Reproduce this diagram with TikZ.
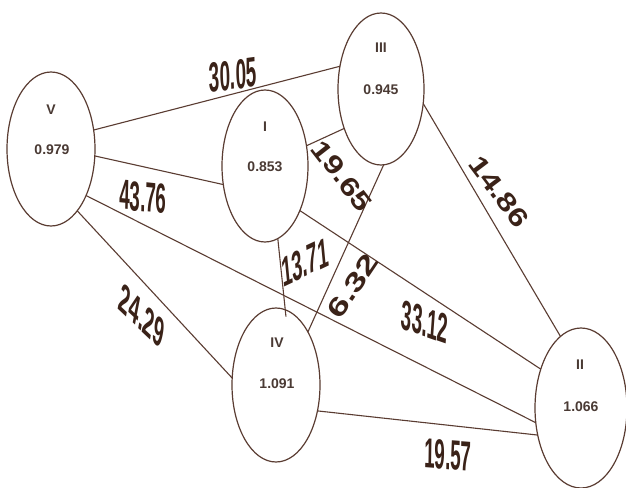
\documentclass[tikz,border=0pt]{standalone}
\usepackage{fontspec}
\setmainfont{Liberation Sans}
\usetikzlibrary{shapes.geometric}
\definecolor{ln}{HTML}{5A3C32}
\definecolor{lb}{HTML}{3A2218}
\definecolor{nt}{HTML}{4A3A34}
\tikzset{
 ell/.style={draw=ln, line width=1.2pt, ellipse, inner sep=0pt, outer sep=0pt},
 ellA/.style={ell, minimum width=88pt, minimum height=154pt},
 ellB/.style={ell, minimum width=86pt, minimum height=152pt},
 ellC/.style={ell, minimum width=92pt, minimum height=160pt},
 nm/.style={font=\bfseries\fontsize{14}{14}\selectfont, text=nt, inner sep=0pt},
 wtA/.style={font=\bfseries\fontsize{42}{42}\selectfont, text=lb, inner sep=0pt},
 wtB/.style={font=\bfseries\fontsize{26}{26}\selectfont, text=lb, inner sep=0pt},
 edge/.style={draw=ln, line width=1.1pt}
}
\begin{document}
\begin{tikzpicture}[x=1pt,y=-1pt]
\useasboundingbox (0,0) rectangle (626,487);
\fill[white] (0,0) rectangle (626,487);
% nodes
\node[ellA] (V) at (51,149) {};
\node[ellB] (I) at (265,166) {};
\node[ellB] (III) at (381,89) {};
\node[ellA] (IV) at (276,385) {};
\node[ellC] (II) at (581,408) {};
% node texts
\node[nm] (Vn) at (51,110) {V};
\node[nm] (Vv) at (52,150) {0.979};
\node[nm] (In) at (265,127) {I};
\node[nm] (Iv) at (265,167) {0.853};
\node[nm] (IIIn) at (381,48) {III};
\node[nm] (IIIv) at (381,90) {0.945};
\node[nm] (IVn) at (277,343) {IV};
\node[nm] (IVv) at (277,384) {1.091};
\node[nm] (IIn) at (580,365) {II};
\node[nm] (IIv) at (581,407) {1.066};
% connectors
\draw[edge] (V.24) -- (III.151);
\draw[edge] (V.-9) -- (I.204);
\draw[edge] (V.-53) -- (II.198);
\draw[edge] (V.-67) -- (IV.171);
\draw[edge] (I.26) -- (III.227);
\draw[edge, shorten >=-7pt] (I.-80) -- (IV.83);
\draw[edge] (I.-52) -- (II.136);
\draw[edge] (III.272) -- (IV.59);
\draw[edge] (III.-19) -- (II.106);
\draw[edge] (IV.-32) -- (II.212);
% weights (condensed, near-horizontal)
\node[wtA, xscale=0.45, rotate=3.6] (w1) at (233,75) {30.05};
\node[wtA, xscale=0.45, rotate=-2.7] (w2) at (143,197) {43.76};
\node[wtA, xscale=0.45, rotate=-23] (w3) at (142,316) {24.29};
\node[wtA, xscale=0.45, rotate=12] (w6) at (305,262) {13.71};
\node[wtA, xscale=0.45, rotate=-9] (w8) at (425,322) {33.12};
\node[wtA, xscale=0.45, rotate=-2] (w9) at (448,455) {19.57};
% weights (steep)
\node[wtB, rotate=-52, xscale=1.25] (w4) at (342,176) {19.65};
\node[wtB, rotate=-53, xscale=1.25] (w5) at (499,192) {14.86};
\node[wtB, rotate=56, xscale=1.4] (w7) at (353,286) {6.32};
\end{tikzpicture}
\end{document}
